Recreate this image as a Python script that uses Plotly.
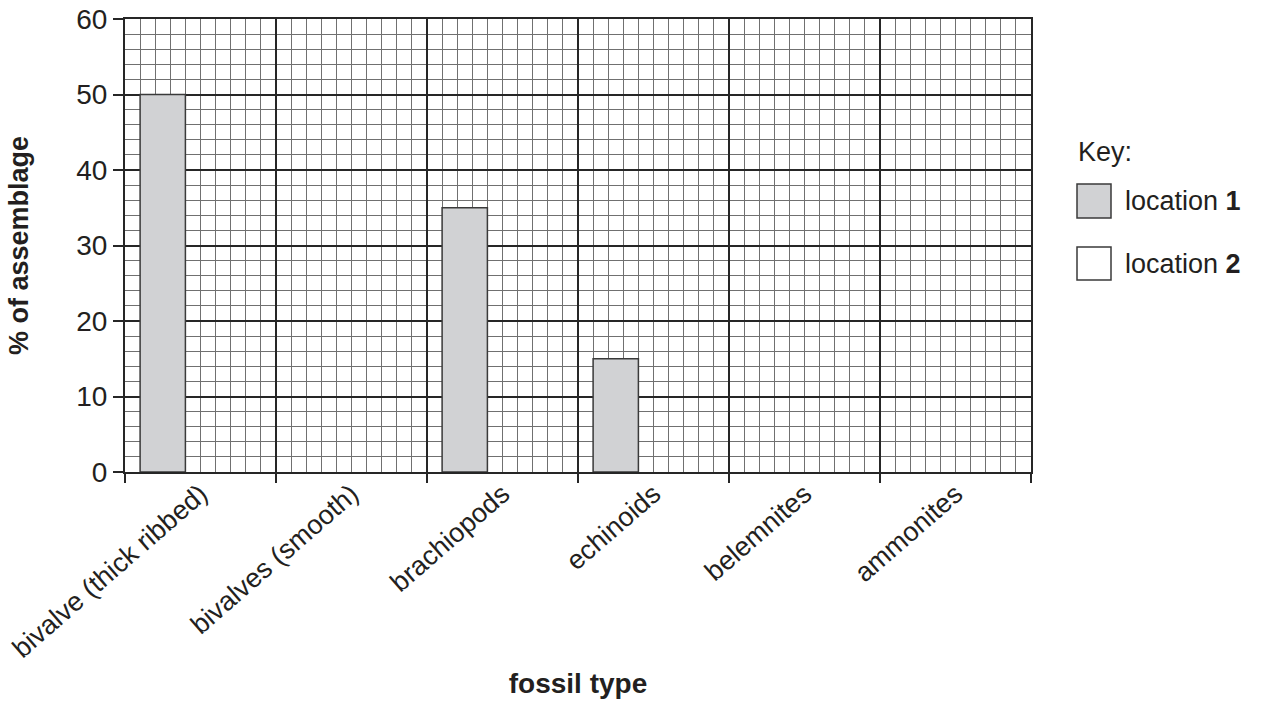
import plotly.graph_objects as go

categories = ["bivalve (thick ribbed)", "bivalves (smooth)", "brachiopods",
              "echinoids", "belemnites", "ammonites"]
location1 = [50, 0, 35, 15, 0, 0]
location2 = [0, 0, 0, 0, 0, 0]

FONT = "Liberation Sans, Arial, Helvetica, sans-serif"
INK = "#231f20"
MAJOR = "#262626"
MINOR = "#707070"

n = len(categories)
idx = list(range(n))
x1 = [i + 0.25 for i in idx]
x2 = [i + 0.55 for i in idx]
centers = [i + 0.5 for i in idx]
y1 = [v if v else None for v in location1]
y2 = [v if v else None for v in location2]

x_minor = [round(k * 0.1, 2) for k in range(0, n * 10 + 1) if k % 10 != 0]
y_minor = [k for k in range(0, 61, 2) if k % 10 != 0]

fig = go.Figure()
fig.add_trace(go.Bar(x=x1, y=y1, width=0.3, name="location 1",
                     marker=dict(color="#d1d2d4", line=dict(color="#3a3a3a", width=1.5)),
                     showlegend=False))
fig.add_trace(go.Bar(x=x2, y=y2, width=0.3, name="location 2",
                     marker=dict(color="#ffffff", line=dict(color="#3a3a3a", width=1.5)),
                     showlegend=False))
# invisible helper trace for the category label axis
fig.add_trace(go.Scatter(x=centers, y=[None] * n, xaxis="x2", mode="markers",
                         showlegend=False, hoverinfo="skip"))

fig.update_layout(
    width=1268, height=704,
    margin=dict(l=125, r=237, t=19, b=232),
    paper_bgcolor="white", plot_bgcolor="white",
    font=dict(family=FONT, color=INK, size=28),
    barmode="overlay",
    xaxis=dict(range=[0, n], tick0=0, dtick=1, showticklabels=False,
               ticks="outside", ticklen=9, tickwidth=2, tickcolor=MAJOR,
               showgrid=True, gridcolor=MAJOR, gridwidth=2,
               minor=dict(tickmode="array", tickvals=x_minor, showgrid=True,
                          gridcolor=MINOR, gridwidth=1),
               showline=True, mirror=True, linecolor=MAJOR, linewidth=2,
               zeroline=False, fixedrange=True),
    xaxis2=dict(range=[0, n], overlaying="x", side="bottom", anchor="y",
                tickmode="array", tickvals=centers, ticktext=categories,
                tickangle=-41, ticks="", showgrid=False, showline=False,
                zeroline=False, tickfont=dict(size=27, family=FONT, color=INK),
                ticklabeloverflow="allow",
                title=dict(text="<b>fossil type</b>", font=dict(size=28, family=FONT, color=INK),
                           standoff=10),
                automargin=False),
    yaxis=dict(range=[0, 60], tick0=0, dtick=10,
               ticks="outside", ticklen=10, tickwidth=2, tickcolor=MAJOR,
               tickfont=dict(size=28, family=FONT, color=INK),
               ticklabeloverflow="allow",
               showgrid=True, gridcolor=MAJOR, gridwidth=2,
               minor=dict(tickmode="array", tickvals=y_minor, showgrid=True,
                          gridcolor=MINOR, gridwidth=1),
               showline=True, mirror=True, linecolor=MAJOR, linewidth=2,
               zeroline=False,
               title=dict(text="<b>% of assemblage</b>", font=dict(size=27, family=FONT, color=INK),
                          standoff=40),
               automargin=False),
)

# Key (positions given relative to the plot area)
def px_x(px):
    return (px - 125) / (1031 - 125)

def px_y(py):
    return (472 - py) / (472 - 19)

fig.add_annotation(x=px_x(1076), y=px_y(152), xref="paper", yref="paper",
                   text="Key:", showarrow=False, xanchor="left", yanchor="middle",
                   font=dict(size=27, family=FONT, color=INK))
key_items = [("location <b>1</b>", "#d1d2d4", 184, 218),
             ("location <b>2</b>", "#ffffff", 247, 280)]
for label, col, top, bot in key_items:
    fig.add_shape(type="rect", xref="paper", yref="paper",
                  x0=px_x(1077), x1=px_x(1111), y0=px_y(bot), y1=px_y(top),
                  fillcolor=col, line=dict(color="#3a3a3a", width=1.5))
    fig.add_annotation(x=px_x(1123), y=px_y((top + bot) / 2 + 0.5), xref="paper", yref="paper",
                       text=label, showarrow=False, xanchor="left", yanchor="middle",
                       font=dict(size=27, family=FONT, color=INK))

fig.write_html("out.html", config={"displayModeBar": False},
               post_script="document.body.style.margin='0';document.body.style.overflow='hidden';")
